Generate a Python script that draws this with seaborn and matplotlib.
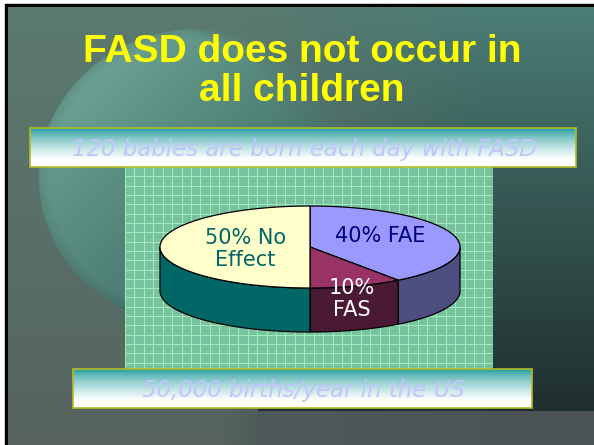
import numpy as np
import seaborn as sns
import matplotlib.pyplot as plt
from matplotlib.colors import ListedColormap, to_rgb
from matplotlib.patches import Polygon, Rectangle

# chart data
slice_labels = ["40% FAE", "10%\nFAS", "50% No\nEffect"]
slice_pct = [40, 10, 50]
top_colors = ["#9999ff", "#993366", "#ffffcc"]
side_colors = ["#4d4d80", "#4a1a35", "#006666"]
label_colors = ["#000080", "#ffffff", "#006666"]
title_lines = ["FASD does not occur in", "all children"]
box_texts = ["120 babies are born each day with FASD", "50,000 births/year in the US"]

W, H = 594, 445
fig = plt.figure(figsize=(W / 100, H / 100), dpi=100, facecolor="white")


def px_axes(l, t, r, b, z):
    # axes placed by pixel box (left, top, right, bottom)
    ax = fig.add_axes([l / W, 1 - b / H, (r - l) / W, (b - t) / H])
    ax.set_zorder(z)
    return ax


def mix(c1, c2, t):
    c1 = np.array(to_rgb(c1))
    c2 = np.array(to_rgb(c2))
    t = np.clip(t, 0, 1)[..., None]
    return c1 + (c2 - c1) * t


# slide background
bg_ax = px_axes(0, 0, W, H, 0)
bg_ax.set_axis_off()
bg_ax.add_patch(Rectangle((5, 4), W + 10, H + 10, color="black", zorder=0))
yy, xx = np.mgrid[7:H + 4, 8:W + 4] + 0.5
bg = mix("#5c7a70", "#56635f", (yy - 7) / 438)
dark = mix("#4b7d75", "#1f2e2e", (yy - 10) / 400)
wx = np.clip((xx - 220) / 260, 0, 1)
wx = np.where((yy > 170) & (xx > 258), 1.0, wx)
bg = bg + (dark - bg) * wx[..., None]
low = (yy > 411) & (xx > 258)
bg = np.where(low[..., None], mix("#505a5a", "#4a5253", (xx - 258) / 336), bg)
# large pale disc on the upper left, sharp on its left rim, fading out to the right
e = ((xx - 200) / 162) ** 2 + ((yy - 178) / 150) ** 2
disc = mix("#74ab9c", "#416f68", (xx + yy - 90) / 420)
disc = disc * (1 - 0.10 * np.clip((e - 0.85) / 0.15, 0, 1))[..., None]
soft = 0.02 + 0.9 * np.clip((xx - 190) / 170, 0, 1)
wd = np.clip((1 - e) / soft, 0, 1)[..., None]
bg = bg + (disc - bg) * wd
bg_ax.imshow(bg, extent=(8, W + 4, H + 4, 7), aspect="auto", interpolation="bilinear", zorder=1)
bg_ax.set_xlim(0, W)
bg_ax.set_ylim(H, 0)

# grid panel behind the pie
panel_ax = px_axes(125, 167, 493, 372, 1)
sns.heatmap(np.zeros((22, 39)), ax=panel_ax, cmap=ListedColormap(["#6dbd96"]),
            cbar=False, linewidths=0.7, linecolor="#a4eec4", alpha=0.92,
            xticklabels=False, yticklabels=False)

# overlay for pie, boxes and text
ax = px_axes(0, 0, W, H, 2)
ax.set_axis_off()
ax.patch.set_alpha(0)

for i, line in enumerate(title_lines):
    ax.text(302, [62, 101][i], line, ha="center", va="baseline", color="#ffff00",
            fontsize=28, fontweight="bold", family="Liberation Sans")

# gradient text boxes (teal at top fading to white)
grad = mix("#1c9a9a", "#ffffff", (np.linspace(0, 1, 60) / 0.8) ** 0.7)
grad = np.repeat(grad[:, None, :], 8, axis=1)
for (l, t, r, b), txt in zip([(30, 128, 576, 167), (73, 369, 532, 408)], box_texts):
    ax.imshow(grad, extent=(l, r, b, t), origin="upper", aspect="auto",
              interpolation="bilinear", zorder=3)
    ax.add_patch(Rectangle((l, t), r - l, b - t, fill=False, ec="#b4bc22", lw=1.2, zorder=4))
    ax.text((l + r) / 2 + 1, (t + b) / 2 + 8.5, txt, ha="center", va="baseline",
            color="#c4c4fc", fontsize=16.5, style="italic", family="DejaVu Sans", zorder=5)

# 3D pie: starts at 12 o'clock, runs clockwise
cx, cy, ra, rb, depth = 310, 247, 150, 41, 44
label_pos = [(0.47, -0.27), (0.28, 1.27), (-0.43, 0.05)]


def rim(t):
    t = np.radians(t)
    return cx + ra * np.cos(t), cy - rb * np.sin(t)


hi = 90.0
spans = []
for p in slice_pct:
    lo = hi - p * 3.6
    spans.append((lo, hi))
    hi = lo

for (lo, hi), sc in zip(spans, side_colors):
    for k in (0, -360):
        a0, a1 = max(lo, -180 + k), min(hi, 0 + k)
        if a1 <= a0:
            continue
        t = np.linspace(a0, a1, 80)
        x, y = rim(t)
        pts = np.column_stack([np.r_[x, x[::-1]], np.r_[y, y[::-1] + depth]])
        ax.add_patch(Polygon(pts, closed=True, fc=sc, ec="black", lw=0.9, zorder=6))

for (lo, hi), tc in zip(spans, top_colors):
    t = np.linspace(hi, lo, 120)
    x, y = rim(t)
    pts = np.column_stack([np.r_[cx, x], np.r_[cy, y]])
    ax.add_patch(Polygon(pts, closed=True, fc=tc, ec="black", lw=0.9, zorder=7))

for lab, (dx, dy), lc in zip(slice_labels, label_pos, label_colors):
    ax.text(cx + dx * ra, cy + dy * rb, lab, ha="center", va="center", color=lc,
            fontsize=15, family="DejaVu Sans", linespacing=1.1, zorder=8)

ax.set_xlim(0, W)
ax.set_ylim(H, 0)

fig.savefig("out.png", dpi=100, facecolor="white")
